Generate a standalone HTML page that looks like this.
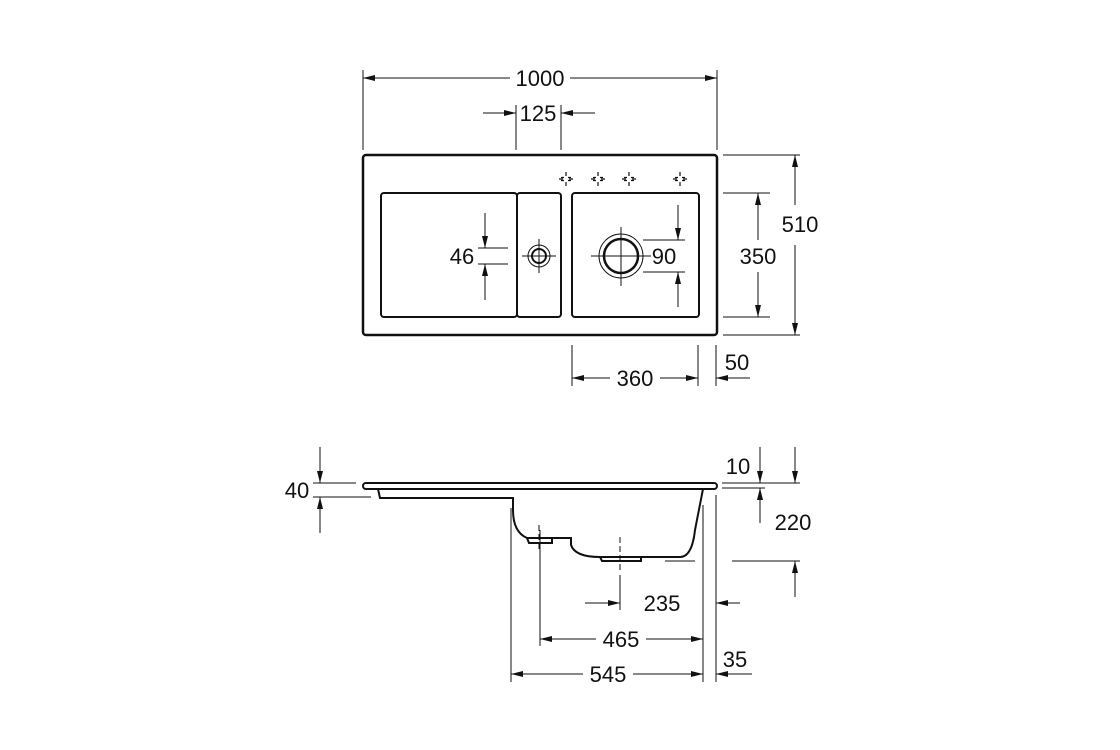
<!DOCTYPE html>
<html><head><style>body{margin:0;background:#fff}svg{display:block}text{font-family:"Liberation Sans",sans-serif;font-size:22px;fill:#111}</style></head><body>
<svg width="1120" height="750" viewBox="0 0 1120 750" xmlns="http://www.w3.org/2000/svg">
<defs>
<marker id="a" viewBox="0 0 12 6" refX="12" refY="3" markerWidth="12" markerHeight="6" orient="auto-start-reverse" markerUnits="userSpaceOnUse"><path d="M0,0L12,3L0,6z" fill="#111"/></marker>
<g id="c" stroke="#111" stroke-width="1.2" fill="none"><path d="M-7 0h4M3 0h4M0 -7v4M0 3v4M-5 -1.5h3M2 -1.5h3M-5 1.5h3M2 1.5h3"/></g>
</defs>
<g stroke="#111" stroke-width="1" fill="none">
<rect x="363" y="155" width="354" height="180" rx="3" stroke-width="2.5"/>
<rect x="381" y="193" width="136" height="124" rx="3" stroke-width="2"/>
<rect x="517" y="193" width="44" height="124" rx="3" stroke-width="2"/>
<rect x="572" y="193" width="127" height="124" rx="3" stroke-width="2"/>
<circle cx="539" cy="256" r="7" stroke-width="2"/><circle cx="539" cy="256" r="11"/>
<path d="M522 256H556M539 239V273"/>
<circle cx="621" cy="256" r="17" stroke-width="2.5"/><circle cx="621" cy="256" r="22"/>
<path d="M591 256H651M621 227V286"/>
<use href="#c" x="566" y="179"/><use href="#c" x="598" y="179"/><use href="#c" x="629" y="179"/><use href="#c" x="680" y="179"/>
<path d="M363 70V150M717 70V150"/>
<path d="M363 78H510" marker-start="url(#a)"/><path d="M570 78H717" marker-end="url(#a)"/>
<path d="M516 105V150M561 105V150"/>
<path d="M483 113H516" marker-end="url(#a)"/><path d="M595 113H561" marker-end="url(#a)"/>
<path d="M723 155H800M723 335H800M723 193H770M723 317H770"/>
<path d="M795 155V205" marker-start="url(#a)"/><path d="M795 245V335" marker-end="url(#a)"/>
<path d="M758 193V240" marker-start="url(#a)"/><path d="M758 272V317" marker-end="url(#a)"/>
<path d="M478 248H508M478 264H508"/>
<path d="M485 213V248" marker-end="url(#a)"/><path d="M485 300V264" marker-end="url(#a)"/>
<path d="M643 240H685M643 272H685"/>
<path d="M678 205V240" marker-end="url(#a)"/><path d="M678 307V272" marker-end="url(#a)"/>
<path d="M572 345V386M698 345V386M716 345V386"/>
<path d="M572 378H610" marker-start="url(#a)"/><path d="M660 378H698" marker-end="url(#a)"/>
<path d="M750 378H716" marker-end="url(#a)"/>
<path d="M366 483H714a3 3 0 0 1 0 6H366a3 3 0 0 1 0-6z" stroke-width="2"/>
<path d="M378 489L380 498H513V510Q513 532 527 538H571V545Q575 557 600 557H680Q692 557 695 530L703 489" stroke-width="2"/>
<path d="M527 538H552V543H529zM600 557H641V561H602z" stroke-width="2"/>
<path d="M539 525V552M620 537V572" stroke-dasharray="6 3"/>
<path d="M313 483H356M313 497H371"/>
<path d="M320 447V483" marker-end="url(#a)"/><path d="M320 533V497" marker-end="url(#a)"/>
<path d="M722 483H800M722 488H765M732 561H800M665 561H695"/>
<path d="M760 447V483" marker-end="url(#a)"/><path d="M760 523V488" marker-end="url(#a)"/>
<path d="M795 447V483" marker-end="url(#a)"/><path d="M795 597V561" marker-end="url(#a)"/>
<path d="M511 508V682M540 530V646M620 575V610M703 505V682M716 495V682"/>
<path d="M585 603H620" marker-end="url(#a)"/><path d="M740 603H716" marker-end="url(#a)"/>
<path d="M540 639H596" marker-start="url(#a)"/><path d="M646 639H703" marker-end="url(#a)"/>
<path d="M511 674H583" marker-start="url(#a)"/><path d="M633 674H703" marker-end="url(#a)"/>
<path d="M752 674H716" marker-end="url(#a)"/>
</g>
<g text-anchor="middle">
<text x="540" y="86">1000</text>
<text x="538" y="121">125</text>
<text x="800" y="232">510</text>
<text x="758" y="264">350</text>
<text x="462" y="264">46</text>
<text x="664" y="264">90</text>
<text x="635" y="386">360</text>
<text x="737" y="370">50</text>
<text x="297" y="498">40</text>
<text x="738" y="474">10</text>
<text x="793" y="530">220</text>
<text x="662" y="611">235</text>
<text x="621" y="647">465</text>
<text x="608" y="682">545</text>
<text x="735" y="667">35</text>
</g>
</svg>
</body></html>
